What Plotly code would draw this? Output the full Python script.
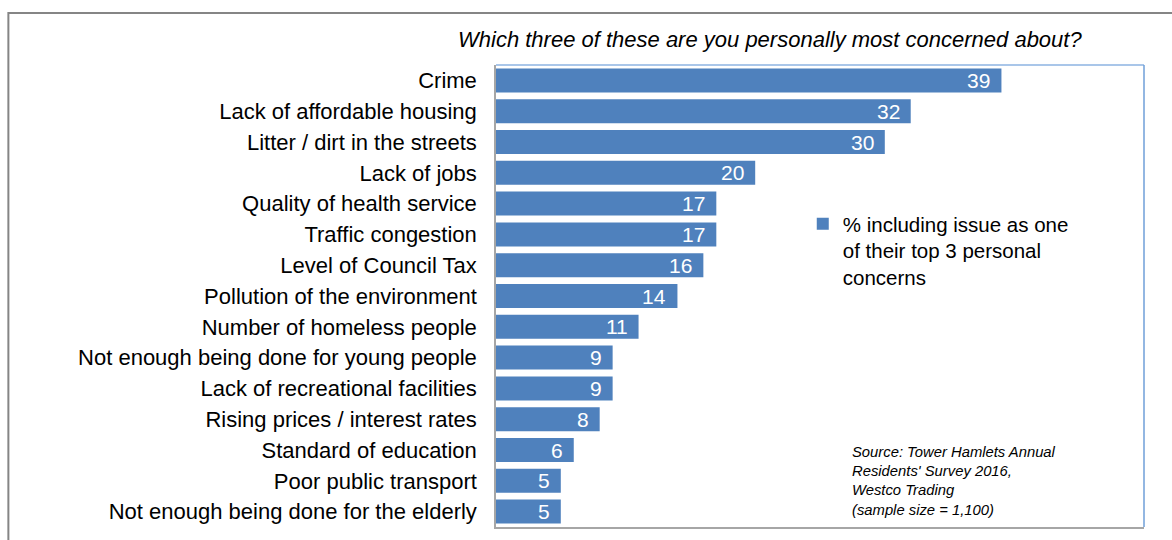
import plotly.graph_objects as go

categories = [
    "Crime",
    "Lack of affordable housing",
    "Litter / dirt in the streets",
    "Lack of jobs",
    "Quality of health service",
    "Traffic congestion",
    "Level of Council Tax",
    "Pollution of the environment",
    "Number of homeless people",
    "Not enough being done for young people",
    "Lack of recreational facilities",
    "Rising prices / interest rates",
    "Standard of education",
    "Poor public transport",
    "Not enough being done for the elderly",
]
values = [39, 32, 30, 20, 17, 17, 16, 14, 11, 9, 9, 8, 6, 5, 5]
series_name = "% including issue as one<br>of their top 3 personal<br>concerns"
title_text = "Which three of these are you personally most concerned about?"
source_text = ("Source: Tower Hamlets Annual<br>Residents' Survey 2016,<br>"
               "Westco Trading<br>(sample size = 1,100)")

W, H = 1172, 540
L, R, T, B = 496, 27.5, 65, 13
pw, ph = W - L - R, H - T - B

BAR = "#4F81BD"
FONT = "Liberation Sans, Arial, sans-serif"


def px_x(px):
    return (px - L) / pw


def px_y(py):
    return (H - B - py) / ph


fig = go.Figure()
fig.add_trace(go.Bar(
    y=categories,
    x=values,
    orientation="h",
    name=series_name,
    marker=dict(color=BAR, line=dict(width=0)),
    width=0.78,
    showlegend=True,
))

annotations = []
# value labels at the inner end of each bar
for c, v in zip(categories, values):
    annotations.append(dict(
        x=v, y=c, xref="x", yref="y", text=str(v), showarrow=False,
        xanchor="right", yanchor="middle", xshift=-9,
        font=dict(family=FONT, size=21, color="white"),
    ))
annotations.append(dict(
    x=px_x(770), y=px_y(40), xref="paper", yref="paper",
    text="<i>" + title_text + "</i>", showarrow=False, xanchor="center", yanchor="middle",
    font=dict(family=FONT, size=22, color="black"),
))
annotations.append(dict(
    x=px_x(850), y=px_y(442), xref="paper", yref="paper",
    text="<i>" + source_text + "</i>", showarrow=False, xanchor="left", yanchor="top",
    align="left", font=dict(family=FONT, size=14.8, color="black"),
))

shapes = [
    # outer frame
    dict(type="rect", xref="paper", yref="paper",
         x0=px_x(8), x1=px_x(1200), y0=px_y(560), y1=px_y(13),
         line=dict(color="#858585", width=2), fillcolor="rgba(0,0,0,0)", layer="below"),
    # plot-area top and right border
    dict(type="line", xref="paper", yref="paper", x0=0, x1=1, y0=1, y1=1,
         line=dict(color="#8DB3E2", width=1.5)),
    dict(type="line", xref="paper", yref="paper", x0=1, x1=1, y0=0, y1=1,
         line=dict(color="#6F9FD8", width=1.5)),
]

fig.update_layout(
    width=W, height=H,
    margin=dict(l=L, r=R, t=T, b=B, pad=0),
    paper_bgcolor="white", plot_bgcolor="white",
    font=dict(family=FONT, size=21, color="black"),
    bargap=0.22,
    xaxis=dict(range=[0, 50], showticklabels=False, showgrid=False, zeroline=False,
               showline=True, linecolor="#A6A6A6", linewidth=1.5, ticks=""),
    yaxis=dict(autorange="reversed", showgrid=False, zeroline=False,
               showline=True, linecolor="#A6A6A6", linewidth=1.5, ticks="",
               ticklabelstandoff=13, tickfont=dict(family=FONT, size=22, color="black")),
    legend=dict(x=px_x(803), y=px_y(204), xanchor="left", yanchor="top",
                valign="top", bgcolor="rgba(0,0,0,0)", borderwidth=0,
                font=dict(family=FONT, size=20.5, color="black"),
                itemwidth=30, tracegroupgap=0),
    annotations=annotations,
    shapes=shapes,
)

fig.write_html("out.html")
